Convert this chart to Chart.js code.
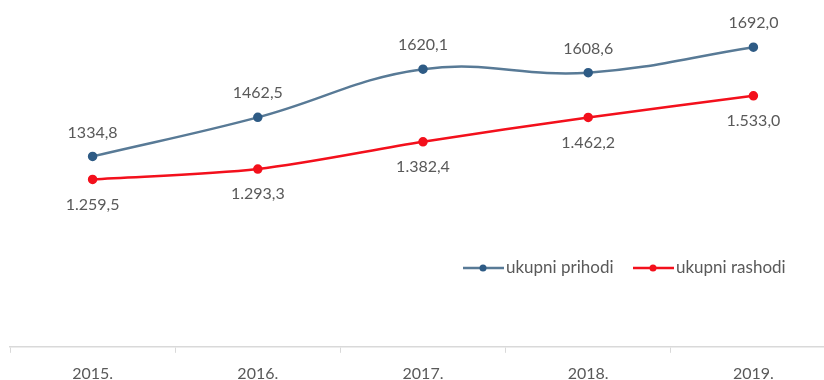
<!DOCTYPE html>
<html>
<head>
<meta charset="utf-8">
<script src="https://cdn.jsdelivr.net/npm/chart.js@4"></script>
<style>
  html, body { margin: 0; padding: 0; background: #fff; overflow: hidden; }
  #wrap { width: 850px; height: 380px; }
</style>
</head>
<body>
<div id="wrap"><canvas id="finChart"></canvas></div>
<script>
// Data
const years = ['2015.', '2016.', '2017.', '2018.', '2019.'];
const prihodi = [1334.8, 1462.5, 1620.1, 1608.6, 1692.0];
const rashodi = [1259.5, 1293.3, 1382.4, 1462.2, 1533.0];
const prihodiLabels = ['1334,8', '1462,5', '1620,1', '1608,6', '1692,0'];
const rashodiLabels = ['1.259,5', '1.293,3', '1.382,4', '1.462,2', '1.533,0'];
const seriesNames = ['ukupni prihodi', 'ukupni rashodi'];

const blue = '#587a96';
const blueDot = '#2e5b85';
const red = '#f3101c';
const textGray = '#595959';
const font = 'Lato, "Liberation Sans", sans-serif';

// value labels above (prihodi) and below (rashodi) each point
const valueLabels = {
    id: 'valueLabels',
    afterDatasetsDraw(chart) {
        const ctx = chart.ctx;
        ctx.save();
        ctx.font = '16px ' + font;
        ctx.fillStyle = textGray;
        ctx.textAlign = 'center';
        ctx.textBaseline = 'middle';
        chart.getDatasetMeta(0).data.forEach((pt, i) => {
            ctx.fillText(prihodiLabels[i], pt.x, pt.y - 24);
        });
        chart.getDatasetMeta(1).data.forEach((pt, i) => {
            ctx.fillText(rashodiLabels[i], pt.x, pt.y + 25);
        });
        ctx.restore();
    }
};

// legend drawn by hand, Excel style (line with a dot)
const lineLegend = {
    id: 'lineLegend',
    afterDraw(chart) {
        const ctx = chart.ctx;
        const y = 268;
        const items = [
            { x: 463, color: blue, dot: blueDot, text: seriesNames[0] },
            { x: 633, color: red, dot: red, text: seriesNames[1] }
        ];
        ctx.save();
        ctx.font = '17px ' + font;
        ctx.textBaseline = 'middle';
        items.forEach(it => {
            ctx.strokeStyle = it.color;
            ctx.lineWidth = 2.5;
            ctx.beginPath();
            ctx.moveTo(it.x, y);
            ctx.lineTo(it.x + 41, y);
            ctx.stroke();
            ctx.fillStyle = it.dot;
            ctx.beginPath();
            ctx.arc(it.x + 20, y, 3.5, 0, Math.PI * 2);
            ctx.fill();
            ctx.fillStyle = textGray;
            ctx.fillText(it.text, it.x + 43, y);
        });
        ctx.restore();
    }
};

new Chart(document.getElementById('finChart'), {
    type: 'line',
    data: {
        labels: years,
        datasets: [
            {
                label: seriesNames[0],
                data: prihodi,
                borderColor: blue,
                backgroundColor: blueDot,
                pointBackgroundColor: blueDot,
                pointBorderColor: blueDot,
                borderWidth: 2.5,
                pointRadius: 3.5,
                tension: 0.4
            },
            {
                label: seriesNames[1],
                data: rashodi,
                borderColor: red,
                backgroundColor: red,
                pointBackgroundColor: red,
                pointBorderColor: red,
                borderWidth: 2.5,
                pointRadius: 3.5,
                tension: 0.3
            }
        ]
    },
    options: {
        responsive: true,
        maintainAspectRatio: false,
        animation: false,
        // negative bottom padding lets the year labels run off the bottom edge like the original
        layout: { padding: { left: 10, right: 14, top: 0, bottom: -14 } },
        scales: {
            x: {
                offset: true,
                grid: {
                    offset: true,
                    drawOnChartArea: false,
                    drawTicks: true,
                    tickLength: 6,
                    color: '#d9d9d9'
                },
                border: { color: '#d9d9d9', width: 1.5 },
                ticks: {
                    color: textGray,
                    padding: 11,
                    font: { family: font, size: 16 }
                }
            },
            y: {
                display: false,
                min: 712,
                max: 1825
            }
        },
        plugins: {
            legend: { display: false },
            tooltip: { enabled: false }
        }
    },
    plugins: [valueLabels, lineLegend]
});
</script>
</body>
</html>
